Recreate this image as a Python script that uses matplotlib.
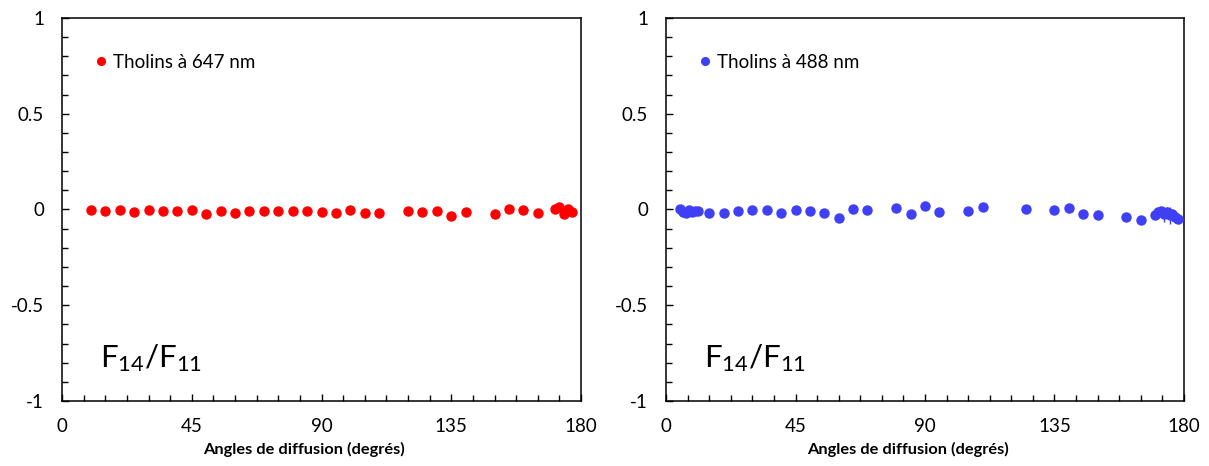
import numpy as np
import matplotlib
matplotlib.use("Agg")
import matplotlib.pyplot as plt
from matplotlib.ticker import MultipleLocator, FixedLocator

plt.rcParams['font.family'] = ['Lato', 'DejaVu Sans']

# Tholins at 647 nm (red)
angles_647 = [10, 15, 20, 25, 30, 35, 40, 45, 50, 55, 60, 65, 70, 75, 80, 85, 90,
              95, 100, 105, 110, 120, 125, 130, 135, 140, 150, 155, 160, 165,
              171, 172.5, 174, 175.5, 177]
ratio_647 = [-0.002, -0.007, -0.002, -0.012, -0.002, -0.007, -0.009, -0.005, -0.022,
             -0.010, -0.017, -0.009, -0.009, -0.007, -0.009, -0.009, -0.014,
             -0.016, -0.005, -0.017, -0.017, -0.007, -0.012, -0.010, -0.035, -0.014,
             -0.026, 0.002, -0.005, -0.016,
             0.000, 0.012, -0.022, 0.004, -0.014]

# Tholins at 488 nm (blue)
angles_488 = [5, 6, 7, 8, 9, 10, 11, 15, 20, 25, 30, 35, 40, 45, 50, 55, 60, 65, 70,
              80, 85, 90, 95, 105, 110, 125, 135, 140, 145, 150, 160, 165,
              170, 171, 172, 173, 174, 175, 176, 177, 178]
ratio_488 = [0.000, -0.012, -0.020, -0.005, -0.015, -0.008, -0.010, -0.019, -0.019,
             -0.009, -0.002, -0.002, -0.016, -0.005, -0.010, -0.016, -0.043, 0.004,
             -0.002, 0.009, -0.022, 0.019, -0.014, -0.010, 0.012, 0.004, -0.005,
             0.007, -0.022, -0.028, -0.040, -0.057,
             -0.030, -0.015, -0.010, -0.025, -0.015, -0.030, -0.025, -0.040, -0.050]
err_488 = [0.01, 0.01, 0.01, 0.01, 0.01, 0.01, 0.01, 0.008, 0.008, 0.008, 0.008, 0.008,
           0.008, 0.008, 0.008, 0.008, 0.008, 0.008, 0.008, 0.012, 0.008, 0.008, 0.008,
           0.012, 0.008, 0.008, 0.008, 0.010, 0.008, 0.008, 0.008, 0.008,
           0.020, 0.030, 0.025, 0.040, 0.030, 0.045, 0.030, 0.030, 0.020]

panels = [
    (angles_647, ratio_647, None, 'red', 'Tholins à 647 nm'),
    (angles_488, ratio_488, err_488, '#3f3ff5', 'Tholins à 488 nm'),
]

fig = plt.figure(figsize=(12.09, 4.66), dpi=100)
positions = [[0.0513, 0.1395, 0.4293, 0.8219], [0.5509, 0.1395, 0.4284, 0.8219]]

for pos, (x, y, err, color, label) in zip(positions, panels):
    ax = fig.add_axes(pos)
    if err is not None:
        ax.errorbar(x, y, yerr=err, fmt='none', ecolor=color, elinewidth=1,
                    capsize=0, zorder=2)
    ax.plot(x, y, 'o', color=color, markersize=6.5, label=label, zorder=3)
    ax.set_xlim(0, 180)
    ax.set_ylim(-1, 1)
    ax.xaxis.set_major_locator(FixedLocator([0, 45, 90, 135, 180]))
    ax.xaxis.set_minor_locator(MultipleLocator(7.5))
    ax.yaxis.set_major_locator(FixedLocator([-1, -0.5, 0, 0.5, 1]))
    ax.yaxis.set_minor_locator(MultipleLocator(0.1))
    ax.set_yticklabels(['-1', '-0.5', '0', '0.5', '1'])
    ax.tick_params(which='both', direction='in', top=False, right=False,
                   width=1, labelsize=13.5, color='black')
    ax.tick_params(which='major', length=5)
    ax.tick_params(which='minor', length=4.5)
    ax.tick_params(axis='x', pad=12)
    ax.tick_params(axis='y', pad=13)
    for sp in ax.spines.values():
        sp.set_linewidth(1.1)
        sp.set_color('black')
    ax.set_xlabel('Angles de diffusion (degrés)', fontsize=11.8, fontweight='bold')
    ax.xaxis.set_label_coords(0.467, -0.108)
    ax.text(0.074, 0.089, r'$\mathregular{F_{14}/F_{11}}$', transform=ax.transAxes,
            fontsize=22.5, va='baseline', ha='left')
    ax.legend(loc='upper left', bbox_to_anchor=(0.033, 0.95), frameon=False,
              fontsize=13.5, handlelength=0.5, handletextpad=0.4, markerscale=0.85)

fig.savefig('out.png', dpi=100)
